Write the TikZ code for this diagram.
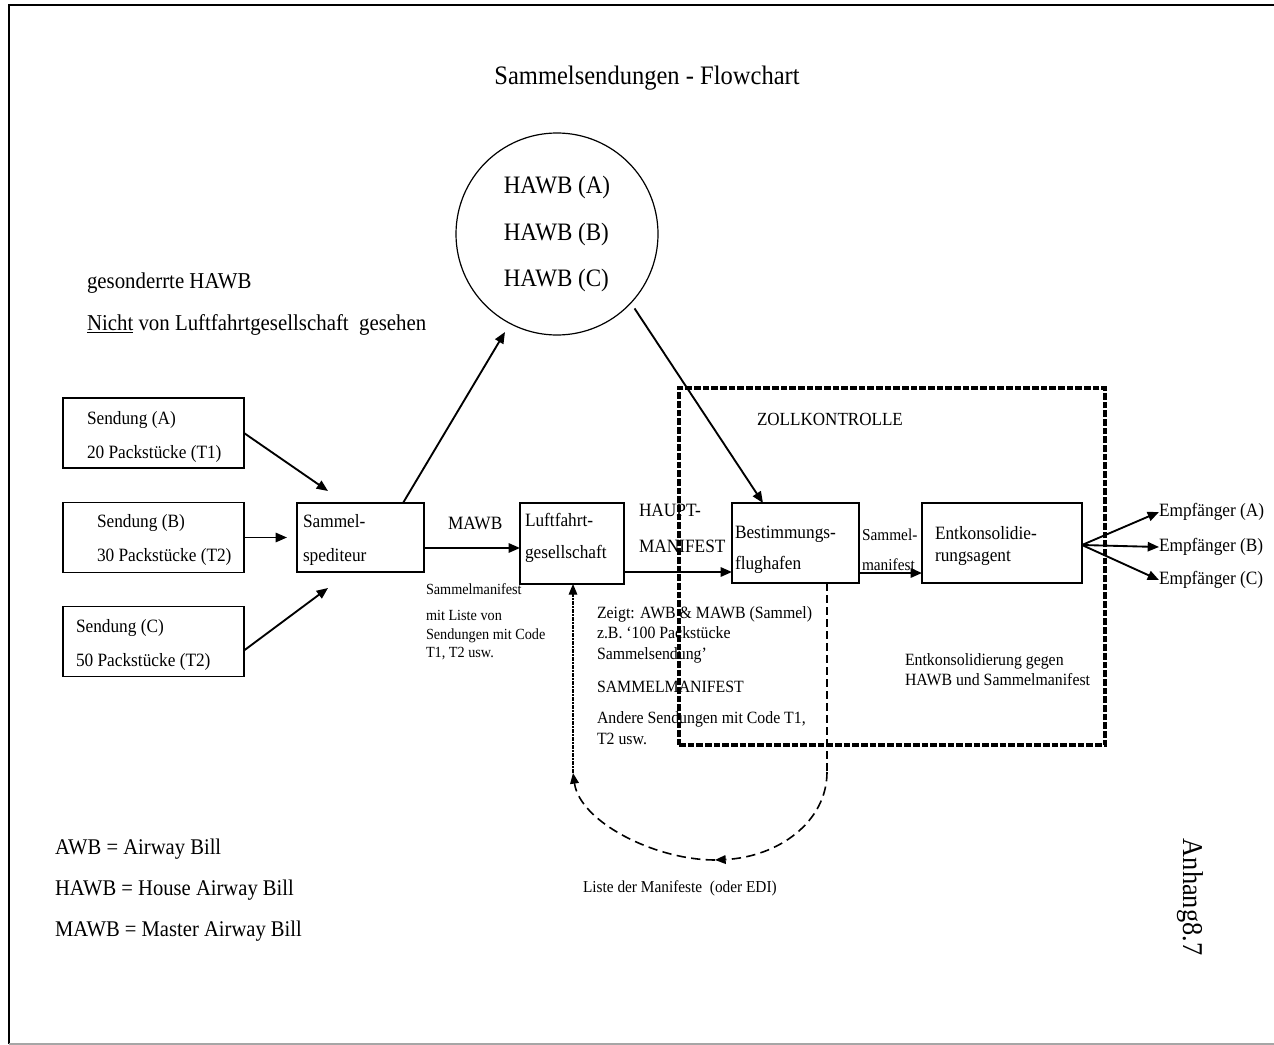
\documentclass[tikz,border=0pt]{standalone}
\usepackage{fontspec}
\setmainfont{Liberation Serif}[FakeStretch=0.92]
\usetikzlibrary{arrows.meta,calc}

\newcommand\fsz[2]{\fontsize{#1}{#2}\selectfont}

\tikzset{
  every node/.style={inner sep=0pt, outer sep=0pt},
  box/.style={draw, line width=0.9pt, rectangle},
  txt/.style={anchor=west, align=left},
  arr/.style={line width=1.4pt, -{Triangle[length=8.5pt,width=7pt]}},
  thindash/.style={line width=0.8pt, dash pattern=on 6pt off 3pt},
  curvedash/.style={line width=1.2pt, dash pattern=on 7pt off 4pt, -{Triangle[length=8pt,width=6.5pt]}},
  dotarr/.style={line width=0.8pt, dash pattern=on 3pt off 1pt on 1pt off 1pt, -{Triangle[length=8pt,width=6.5pt]}},
  zollbox/.style={draw, line width=3pt, dash pattern=on 5pt off 1.5pt},
}

\begin{document}
\begin{tikzpicture}[x=0.75pt,y=-0.75pt]
\useasboundingbox (0,0) rectangle (1274,1045);

% page frame
\draw[line width=1.6pt] (9,1044) -- (9,5) -- (1274,5);
\draw[gray!70, line width=1pt] (9,1044) -- (1274,1044);

% title
\node[font=\fsz{20}{24}] (title) at (647,78) {Sammelsendungen - Flowchart};

% house airway bills
\node[circle, draw, line width=0.9pt, minimum size=151.5pt, align=left,
      font=\fsz{18.8}{35}] (hawb) at (557,234) {HAWB (A)\\HAWB (B)\\HAWB (C)};

\node[txt, font=\fsz{17}{20}] (sep) at (87,283) {gesonderrte HAWB};
\node[txt, font=\fsz{17}{20}] (nicht) at (87,325) {\underline{Nicht} von Luftfahrtgesellschaft\ \ gesehen};

% single shipments
\node[box, minimum width=135.75pt, minimum height=52.5pt] (sa) at (153.5,433) {};
\node[txt, font=\fsz{14.1}{25.5}] (sat) at (87,437) {Sendung (A)\\20 Packstücke (T1)};
\node[box, minimum width=135.75pt, minimum height=52pt] (sb) at (153.5,537.5) {};
\node[txt, font=\fsz{14.1}{25.5}] (sbt) at (97,540) {Sendung (B)\\30 Packstücke (T2)};
\node[box, minimum width=135.75pt, minimum height=52pt] (sc) at (153.5,641.5) {};
\node[txt, font=\fsz{14.1}{25.5}] (sct) at (76,645) {Sendung (C)\\50 Packstücke (T2)};

% consolidator
\node[box, minimum width=95.25pt, minimum height=51.75pt] (sp) at (360.5,537.5) {};
\node[txt, font=\fsz{14.1}{25.5}] (spt) at (303,540) {Sammel-\\spediteur};

% airline
\node[box, minimum width=78pt, minimum height=60.75pt] (lf) at (572,543.5) {};
\node[txt, font=\fsz{14.1}{24}] (lft) at (525,538) {Luftfahrt-\\gesellschaft};

% destination airport
\node[box, minimum width=95.25pt, minimum height=60pt] (best) at (795.5,543) {};
\node[txt, font=\fsz{14.1}{23.25}] (bestt) at (735,550) {Bestimmungs-\\flughafen};

% deconsolidation agent
\node[box, minimum width=120pt, minimum height=60pt] (ent) at (1002,543) {};
\node[txt, font=\fsz{14.1}{16.5}] (entt) at (935,546) {Entkonsolidie-\\rungsagent};

% labels on the main line
\node[txt, font=\fsz{14.1}{16}] (mawb) at (448,523) {MAWB};
\node[txt, font=\fsz{14.1}{27}] (haupt) at (639,528) {HAUPT-\\MANIFEST};
\node[txt, font=\fsz{12.5}{22.5}] (smf) at (862,550) {Sammel-\\manifest};
\node[txt, font=\fsz{13.9}{16}] (zoll) at (757,419) {ZOLLKONTROLLE};

% notes
\node[txt, font=\fsz{11.6}{13}] (n1) at (426,589) {Sammelmanifest};
\node[txt, font=\fsz{11.6}{13.9}] (n2) at (426,635.5) {mit Liste von\\Sendungen mit Code\\T1, T2 usw.};
\node[txt, font=\fsz{12.9}{15.4}] (n3) at (597,634.5) {Zeigt: AWB \& MAWB (Sammel)\\z.B. ‘100 Packstücke\\Sammelsendung’};
\node[txt, font=\fsz{12.9}{15}] (n4) at (597,687) {SAMMELMANIFEST};
\node[txt, font=\fsz{12.9}{15.75}] (n5) at (597,728.5) {Andere Sendungen mit Code T1,\\T2 usw.};
\node[txt, font=\fsz{12.9}{15}] (n6) at (905,670) {Entkonsolidierung gegen\\HAWB und Sammelmanifest};
\node[txt, font=\fsz{12.5}{14}] (liste) at (583,888) {Liste der Manifeste\ \ (oder EDI)};

% consignees
\node[txt, font=\fsz{14.1}{16}] (ea) at (1159,512) {Empfänger (A)};
\node[txt, font=\fsz{14.1}{16}] (eb) at (1159,547) {Empfänger (B)};
\node[txt, font=\fsz{14.1}{16}] (ec) at (1159,580) {Empfänger (C)};

% legend
\node[txt, font=\fsz{16.8}{20}] (l1) at (55,849) {AWB = Airway Bill};
\node[txt, font=\fsz{16.8}{20}] (l2) at (55,890) {HAWB = House Airway Bill};
\node[txt, font=\fsz{16.8}{20}] (l3) at (55,931) {MAWB = Master Airway Bill};

\node[rotate=-90, font=\fsz{21.5}{24}] (anh) at (1190,897) {Anhang8.7};

% connectors
\coordinate (ain) at (328,491);
\coordinate (bin) at (287,537.5);
\coordinate (cin) at (328,588);
\coordinate (hin) at (505,332);
\draw[arr] (sa.east) -- (ain);
\draw[arr] (sb.east) -- (bin);
\draw[arr] ($(sc.east)+(0,9)$) -- (cin);
\draw[arr] ($(sp.north)+(42.5,0)$) -- (hin);
\draw[arr] ($(sp.east)+(0,10.5)$) -- ($(lf.west)+(0,4.5)$);
\draw[arr] ($(lf.east)+(1,28.5)$) -- ($(best.west)+(0,29)$);
\draw[arr, shorten <=5pt] (hawb.-43) -- ($(best.north)+(-32.5,0)$);
\draw[arr] ($(best.east)+(0,30)$) -- ($(ent.west)+(0,30)$);
\draw[arr] ($(ent.east)+(0,2)$) -- (ea.west);
\draw[arr] ($(ent.east)+(0,2)$) -- (eb.west);
\draw[arr] ($(ent.east)+(0,2)$) -- (ec.west);

% list of manifests returned to the airline
\coordinate (d0) at ($(best.south)+(31.5,0)$);
\coordinate (d1) at (827,772);
\coordinate (d2) at (715,860);
\coordinate (d3) at (573,773);
\draw[thindash] (d0) -- (d1);
\draw[curvedash] (d1) .. controls (827,822) and (778,857) .. (d2);
\draw[curvedash] (d2) .. controls (655,860) and (580,822) .. (d3);
\draw[dotarr] (d3) -- (d3 |- lf.south);

% customs area
\node[zollbox, minimum width=319.5pt, minimum height=267.75pt] (zollarea) at (892,566.5) {};
\end{tikzpicture}
\end{document}
